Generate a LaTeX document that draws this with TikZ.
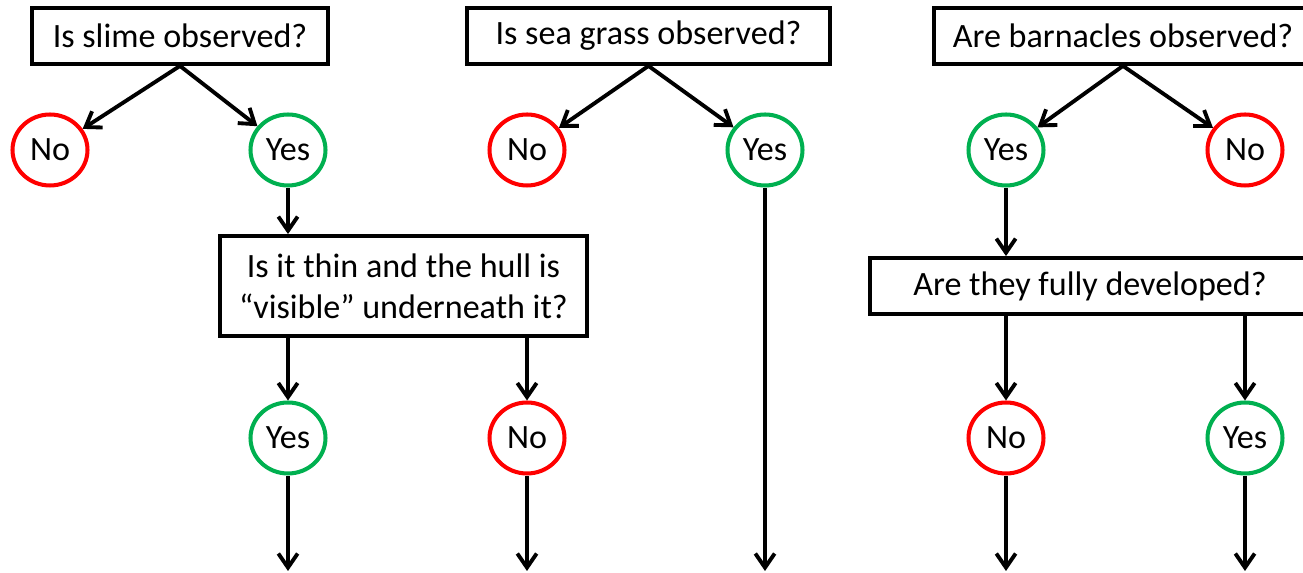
\documentclass[tikz,border=0pt]{standalone}
\usepackage{fontspec}
\setmainfont{Carlito}
\usetikzlibrary{arrows.meta,shapes.geometric}
\definecolor{okgreen}{RGB}{0,176,80}
\definecolor{nored}{RGB}{255,0,0}
\tikzset{
    question/.style={draw=black, line width=2.2pt, inner sep=0pt, minimum height=1.12cm, font=\fontsize{19.4}{23.5}\selectfont, align=center},
    answer/.style={ellipse, line width=2.3pt, inner sep=0pt, minimum width=1.5cm, minimum height=1.42cm, font=\fontsize{19.4}{23.5}\selectfont},
    yes/.style={answer, draw=okgreen},
    no/.style={answer, draw=nored},
    flow/.style={line width=2.2pt, -{Straight Barb[length=8pt,width=11pt]}}
}
\begin{document}
\begin{tikzpicture}[x=0.02cm,y=-0.02cm]
    \useasboundingbox (0,0) rectangle (1303,573);
    \clip (0,0) rectangle (1303,573);
    % Questions
    \node[question, minimum width=5.92cm] (slime) at (180,36) {Is slime observed?};
    \node[question, minimum width=7.34cm, minimum height=2cm] (thin) at (403.5,286) {Is it thin and the hull is\\“visible” underneath it?};
    \node[question, minimum width=7.26cm] (grass) at (648.5,36) {Is sea grass observed?};
    \node[question, minimum width=7.56cm] (barn) at (1123,36) {Are barnacles observed?};
    \node[question, minimum width=8.8cm] (full) at (1090,286) {Are they fully developed?};
    % Answers
    \node[no] (slimeno) at (50,150) {No};
    \node[yes] (slimeyes) at (288,150) {Yes};
    \node[yes] (thinyes) at (288,438) {Yes};
    \node[no] (thinno) at (527,438) {No};
    \node[no] (grassno) at (527,150) {No};
    \node[yes] (grassyes) at (765,150) {Yes};
    \node[yes] (barnyes) at (1006,150) {Yes};
    \node[no] (barnno) at (1245,150) {No};
    \node[no] (fullno) at (1006,438) {No};
    \node[yes] (fullyes) at (1245,438) {Yes};
    % Free ends
    \foreach \n/\x in {a/288,b/527,c/765,d/1006,e/1245}
        \coordinate (end\n) at (\x,571);
    % Connectors
    \draw[flow] (slime.south) -- (slimeno);
    \draw[flow] (slime.south) -- (slimeyes);
    \draw[flow] (slimeyes) -- (slimeyes |- thin.north);
    \draw[flow] (thin.south -| thinyes) -- (thinyes);
    \draw[flow] (thin.south -| thinno) -- (thinno);
    \draw[flow] (thinyes) -- (enda);
    \draw[flow] (thinno) -- (endb);
    \draw[flow] (grass.south) -- (grassno);
    \draw[flow] (grass.south) -- (grassyes);
    \draw[flow] (grassyes) -- (endc);
    \draw[flow] (barn.south) -- (barnyes);
    \draw[flow] (barn.south) -- (barnno);
    \draw[flow] (barnyes) -- (barnyes |- full.north);
    \draw[flow] (full.south -| fullno) -- (fullno);
    \draw[flow] (full.south -| fullyes) -- (fullyes);
    \draw[flow] (fullno) -- (endd);
    \draw[flow] (fullyes) -- (ende);
\end{tikzpicture}
\end{document}
